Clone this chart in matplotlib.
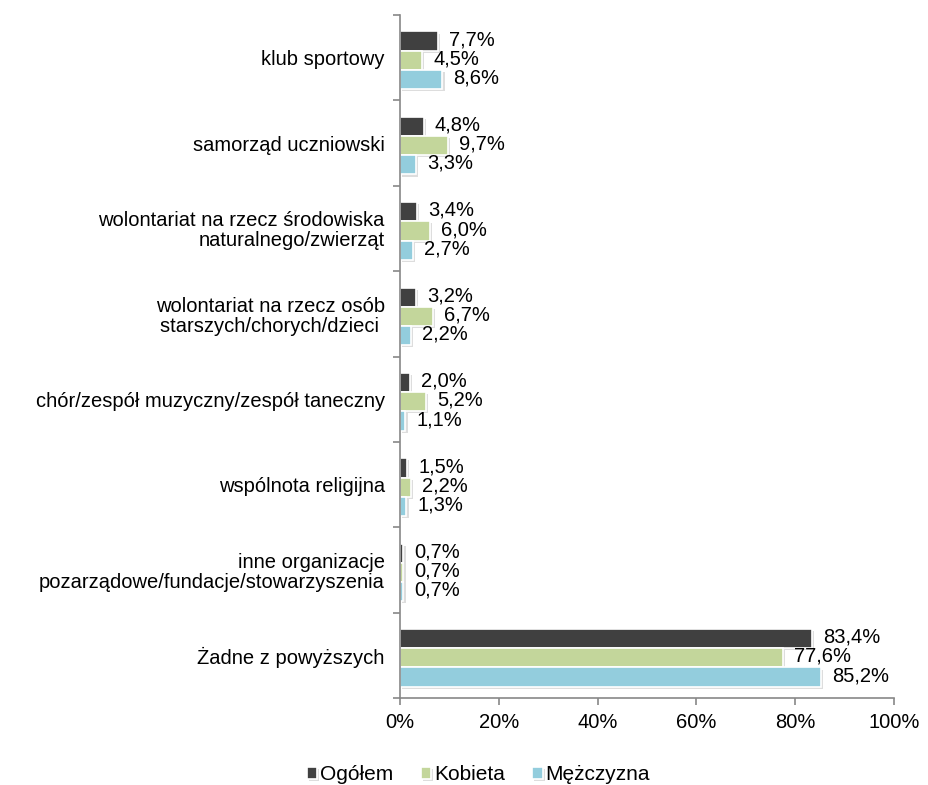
import numpy as np
import matplotlib.pyplot as plt
import matplotlib.patheffects as pe
from matplotlib.ticker import FuncFormatter, FixedLocator

plt.rcParams['font.family'] = ['Liberation Sans', 'DejaVu Sans']

categories = ["klub sportowy",
              "samorząd uczniowski",
              "wolontariat na rzecz środowiska\nnaturalnego/zwierząt",
              "wolontariat na rzecz osób\nstarszych/chorych/dzieci ",
              "chór/zespół muzyczny/zespół taneczny",
              "wspólnota religijna",
              "inne organizacje\npozarządowe/fundacje/stowarzyszenia",
              "Żadne z powyższych"]
ogolem = [7.7, 4.8, 3.4, 3.2, 2.0, 1.5, 0.7, 83.4]
kobieta = [4.5, 9.7, 6.0, 6.7, 5.2, 2.2, 0.7, 77.6]
mezczyzna = [8.6, 3.3, 2.7, 2.2, 1.1, 1.3, 0.7, 85.2]

series = [("Ogółem", ogolem, "#404040"),
          ("Kobieta", kobieta, "#C3D69B"),
          ("Mężczyzna", mezczyzna, "#93CDDD")]

fig = plt.figure(figsize=(9.29, 7.85), dpi=100)
ax = fig.add_axes([400/929, 1-698/785, 494/929, 683/785])

y = np.arange(len(categories))
h = 0.225
shadow = [pe.SimplePatchShadow(offset=(1.5, -1.5), shadow_rgbFace='#909090', alpha=0.3), pe.Normal()]
for i, (name, vals, col) in enumerate(series):
    pos = y + (i - 1) * h + 0.03
    bars = ax.barh(pos, vals, height=h, color=col, edgecolor='white', linewidth=1.2, label=name)
    for b in bars:
        b.set_path_effects(shadow)
    for p, v in zip(pos, vals):
        ax.annotate(f"{v:.1f}".replace('.', ',') + '%', (v, p), xytext=(8, 1),
                    textcoords='offset points', va='center', ha='left', fontsize=14.5)

ax.set_xlim(0, 100)
ax.set_ylim(len(categories) - 0.5, -0.5)
ax.xaxis.set_major_locator(FixedLocator([0, 20, 40, 60, 80, 100]))
ax.xaxis.set_major_formatter(FuncFormatter(lambda v, _: f"{v:.0f}%"))
ax.set_yticks(y)
ax.set_yticklabels(categories, fontsize=14.5, linespacing=1.05)
ax.set_yticks(np.arange(-0.5, len(categories)), minor=True)
ax.tick_params(axis='y', which='major', length=0, pad=11)
ax.tick_params(axis='y', which='minor', length=5, color='#888888', width=1.2)
ax.tick_params(axis='x', length=5, color='#888888', width=1.2, labelsize=14.5, pad=6)
for s in ['top', 'right']:
    ax.spines[s].set_visible(False)
for s in ['left', 'bottom']:
    ax.spines[s].set_color('#888888')
    ax.spines[s].set_linewidth(1.2)

fig.legend(loc='center', bbox_to_anchor=(0.515, 0.013), ncol=3, frameon=False,
           fontsize=15, handlelength=0.5, handleheight=0.5, handletextpad=0.15,
           columnspacing=1.3)

fig.savefig("out.png", dpi=100)
